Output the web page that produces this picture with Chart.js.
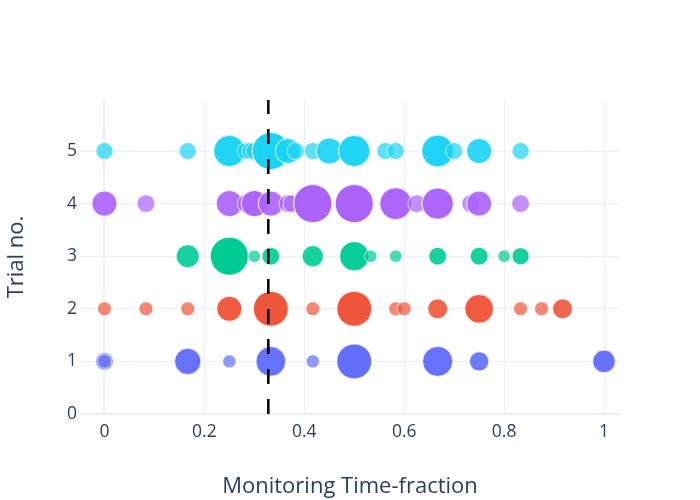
<!DOCTYPE html>
<html>
<head>
<meta charset="utf-8">
<script src="https://cdn.jsdelivr.net/npm/chart.js@4.4.1/dist/chart.umd.min.js"></script>
<style>
  body { margin: 0; background: #fff; }
  #wrap { width: 700px; height: 500px; }
</style>
</head>
<body>
<div id="wrap"><canvas id="trial-chart" width="700" height="500"></canvas></div>
<script>
// axis ticks
const xTicks = [0, 0.2, 0.4, 0.6, 0.8, 1];
const yTicks = [0, 1, 2, 3, 4, 5];
const threshold = 0.328;

// one set of arrays per trial: x position, bubble size value, number of overlapping observations
const trial1X = [0, 0, 0.1667, 0.25, 0.333, 0.417, 0.5, 0.667, 0.75, 1];
const trial1Size = [1.6, 1, 3.5, 0.9, 4.5, 0.9, 6.2, 4.6, 1.9, 2.6];
const trial1Obs = [1, 1, 3, 1, 3, 1, 4, 3, 2, 3];

const trial2X = [0, 0.083, 0.1667, 0.25, 0.333, 0.417, 0.5, 0.583, 0.6, 0.667, 0.75, 0.833, 0.875, 0.917];
const trial2Size = [1, 1, 1, 3.2, 6.2, 1, 6.2, 1, 1, 2, 4.2, 1, 1, 2];
const trial2Obs = [1, 1, 1, 3, 4, 1, 4, 1, 1, 2, 3, 1, 1, 2];

const trial3X = [0.1667, 0.25, 0.3, 0.333, 0.417, 0.5, 0.533, 0.583, 0.667, 0.75, 0.8, 0.833];
const trial3Size = [2.7, 7.4, 0.8, 1.6, 2.3, 4.4, 0.8, 0.8, 1.6, 1.6, 0.8, 1.5];
const trial3Obs = [2, 5, 1, 2, 2, 3, 1, 1, 2, 2, 1, 2];

const trial4X = [0, 0.083, 0.25, 0.286, 0.3, 0.333, 0.367, 0.375, 0.417, 0.5, 0.583, 0.625, 0.667, 0.733, 0.75, 0.833];
const trial4Size = [3.2, 1.6, 3.5, 2, 3.5, 3.2, 1.6, 1.6, 7.4, 7.4, 5.2, 1.6, 5, 1.6, 3.2, 1.6];
const trial4Obs = [2, 1, 2, 1, 3, 2, 1, 1, 4, 4, 3, 1, 3, 1, 2, 1];

const trial5X = [0, 0.1667, 0.25, 0.283, 0.292, 0.3, 0.333, 0.367, 0.383, 0.417, 0.45, 0.5, 0.5625, 0.583, 0.667, 0.7, 0.75, 0.833];
const trial5Size = [1.5, 1.5, 5, 1.5, 1.5, 1.5, 7, 3.2, 1.5, 1.5, 3.5, 5, 1.5, 1.5, 5.2, 1.5, 3.2, 1.5];
const trial5Obs = [1, 1, 3, 1, 1, 1, 4, 2, 1, 1, 2, 3, 1, 1, 3, 1, 2, 1];

const FONT = '"Open Sans", verdana, arial, sans-serif';
const TEXT = '#2a3f5f';
const GRID = '#ebf0f8';
const Y_MAX = 5.97;

Chart.defaults.font.family = FONT;
Chart.defaults.color = TEXT;

function radiusFor(size) {
  return 7 * Math.sqrt(size);
}

function buildPoints(xs, sizes, obs, y) {
  const pts = [];
  xs.forEach((x, i) => {
    for (let k = 0; k < obs[i]; k++) {
      pts.push({ x: x, y: y, r: radiusFor(sizes[i]) });
    }
  });
  return pts;
}

function bubbleSet(label, xs, sizes, obs, y, rgb) {
  return {
    type: 'bubble',
    label: label,
    data: buildPoints(xs, sizes, obs, y),
    backgroundColor: 'rgba(' + rgb + ',0.7)',
    borderColor: 'rgba(255,255,255,0.7)',
    borderWidth: 1,
    order: 1,
  };
}

const $canvas = document.getElementById('trial-chart');

new Chart($canvas, {
  type: 'bubble',
  data: {
    datasets: [
      {
        type: 'line',
        label: 'threshold',
        data: [{ x: threshold, y: 0 }, { x: threshold, y: Y_MAX }],
        borderColor: '#000',
        borderWidth: 2.5,
        borderDash: [15, 15],
        pointRadius: 0,
        fill: false,
        order: 0,
      },
      bubbleSet('1', trial1X, trial1Size, trial1Obs, 1, '99,110,250'),
      bubbleSet('2', trial2X, trial2Size, trial2Obs, 2, '239,85,59'),
      bubbleSet('3', trial3X, trial3Size, trial3Obs, 3, '0,204,150'),
      bubbleSet('4', trial4X, trial4Size, trial4Obs, 4, '171,99,250'),
      bubbleSet('5', trial5X, trial5Size, trial5Obs, 5, '25,211,243'),
    ],
  },
  options: {
    responsive: false,
    devicePixelRatio: 1,
    animation: false,
    events: [],
    layout: { padding: { left: 0, right: 80, top: 100, bottom: 0 } },
    plugins: {
      legend: { display: false },
      tooltip: { enabled: false },
    },
    scales: {
      x: {
        type: 'linear',
        min: -0.049,
        max: 1.032,
        afterBuildTicks: (axis) => {
          axis.ticks = xTicks.map((v) => ({ value: v }));
        },
        afterFit: (scale) => {
          scale.height = 86;
        },
        ticks: {
          font: { size: 17.5 },
          color: TEXT,
          padding: 8,
          maxRotation: 0,
          callback: (v) => String(v),
        },
        grid: {
          color: GRID,
          lineWidth: (ctx) => (ctx.tick && ctx.tick.value === 0 ? 2 : 1),
          drawTicks: false,
        },
        border: { display: false },
        title: {
          display: true,
          text: 'Monitoring Time-fraction',
          font: { size: 22 },
          color: TEXT,
          padding: { top: 0, bottom: 0 },
        },
      },
      y: {
        type: 'linear',
        min: 0,
        max: Y_MAX,
        afterBuildTicks: (axis) => {
          axis.ticks = yTicks.map((v) => ({ value: v }));
        },
        afterFit: (scale) => {
          scale.width = 80;
        },
        ticks: {
          font: { size: 17.5 },
          color: TEXT,
          padding: 3,
          callback: (v) => String(v),
        },
        grid: {
          color: GRID,
          lineWidth: (ctx) => (ctx.tick && ctx.tick.value === 0 ? 2 : 1),
          drawTicks: false,
        },
        border: { display: false },
        title: {
          display: true,
          text: 'Trial no.',
          font: { size: 22 },
          color: TEXT,
          padding: { top: 4, bottom: 0 },
        },
      },
    },
  },
});
</script>
</body>
</html>
